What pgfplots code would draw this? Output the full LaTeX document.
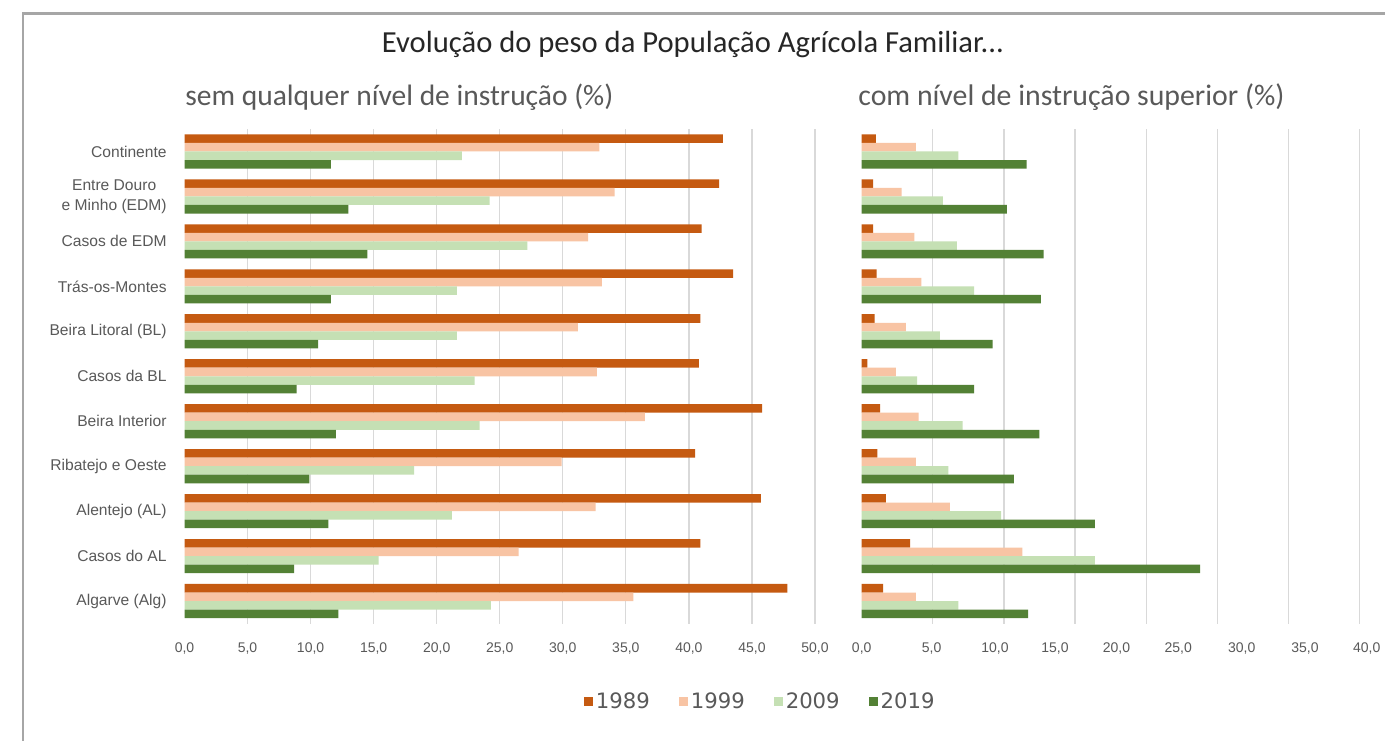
\documentclass[border=0pt]{standalone}
\usepackage{pgfplots}
\pgfplotsset{compat=1.18}
\usepackage{pgfplotstable}
\usepackage{fontspec}
\setmainfont{Carlito}
\newfontfamily\arialf{Liberation Sans}
\newfontfamily\legf{DejaVu Sans}
\definecolor{cA}{HTML}{C55A11}
\definecolor{cB}{HTML}{F8C4A4}
\definecolor{cC}{HTML}{C5E0B4}
\definecolor{cD}{HTML}{538135}
\definecolor{txt}{HTML}{595959}
\definecolor{grd}{HTML}{D9D9D9}

\pgfplotstableread{
idx a b c d
0 42.7 32.9 22.0 11.6
1 42.4 34.1 24.2 13.0
2 41.0 32.0 27.2 14.5
3 43.5 33.1 21.6 11.6
4 40.9 31.2 21.6 10.6
5 40.8 32.7 23.0 8.9
6 45.8 36.5 23.4 12.0
7 40.5 29.9 18.2 9.9
8 45.7 32.6 21.2 11.4
9 40.9 26.5 15.4 8.7
10 47.8 35.6 24.3 12.2
}\semtab

\pgfplotstableread{
idx a b c d
0 1.0 3.8 6.8 11.6
1 0.8 2.8 5.7 10.2
2 0.8 3.7 6.7 12.8
3 1.05 4.2 7.9 12.6
4 0.9 3.1 5.5 9.2
5 0.4 2.4 3.9 7.9
6 1.3 4.0 7.1 12.5
7 1.1 3.8 6.1 10.7
8 1.7 6.2 9.8 16.4
9 3.4 11.3 16.4 23.8
10 1.5 3.8 6.8 11.7
}\comtab

\pgfplotsset{
  barpanel/.style={
    scale only axis,
    y dir=reverse,
    ymin=-0.5, ymax=10.5,
    ytick={0,...,10},
    axis line style={draw=none},
    major tick length=0pt,
    tick style={draw=none},
    grid style={grd, line width=0.6pt},
    xticklabel style={font=\arialf\fontsize{7}{8}\selectfont, text=txt, inner sep=0pt, yshift=-9.25pt},
    /pgf/number format/assume math mode=true,
    clip=false,
  },
  bA/.style={xbar, fill=cA, draw=none, bar width=0.19, bar shift=-0.285},
  bB/.style={xbar, fill=cB, draw=none, bar width=0.19, bar shift=-0.095},
  bC/.style={xbar, fill=cC, draw=none, bar width=0.19, bar shift=0.095},
  bD/.style={xbar, fill=cD, draw=none, bar width=0.19, bar shift=0.285},
}

\begin{document}
\begin{tikzpicture}
\useasboundingbox (0pt,0pt) rectangle (692.5pt,-370pt);
\fill[white] (0pt,0pt) rectangle (692.5pt,-370pt);
\draw[color=black!35, line width=1.2pt] (11.5pt,-372pt) -- (11.5pt,-6.75pt) -- (700pt,-6.75pt);

\node[font=\fontsize{15.3}{18}\selectfont, text=black!85] at (346.5pt,-22.5pt) {Evolução do peso da População Agrícola Familiar...};
\node[font=\fontsize{14.75}{17}\selectfont, text=txt, anchor=west, inner sep=0pt] at (92.5pt,-48.5pt) {sem qualquer nível de instrução (\%)};
\node[font=\fontsize{14.9}{17}\selectfont, text=txt, anchor=west, inner sep=0pt] at (429pt,-48.5pt) {com nível de instrução superior (\%)};

\begin{axis}[barpanel,
  at={(92.25pt,-64.5pt)}, anchor=north west,
  width=315.25pt, height=247.25pt,
  xmin=0, xmax=50,
  xtick={0,5,...,50},
  xticklabel={\pgfmathprintnumber[fixed, fixed zerofill, precision=1, use comma]{\tick}},
  extra x ticks={5,10,...,50},
  extra x tick labels={},
  extra x tick style={xmajorgrids=true},
  yticklabels={Continente,{Entre Douro\\e Minho (EDM)},Casos de EDM,Trás-os-Montes,Beira Litoral (BL),Casos da BL,Beira Interior,Ribatejo e Oeste,Alentejo (AL),Casos do AL,Algarve (Alg)},
  yticklabel style={font=\arialf\fontsize{7.8}{10}\selectfont, text=txt, align=center, inner sep=0pt, xshift=-8.75pt},
  legend style={at={(0.914,-0.158)}, anchor=center, draw=none, fill=none,
    legend columns=4, font=\legf\fontsize{10.6}{12}\selectfont, text=txt,
    nodes={inner xsep=1.5pt},
    /tikz/every even column/.append style={column sep=13pt},
    /tikz/every odd column/.append style={column sep=0pt}},
  legend image code/.code={\fill[#1] (0pt,-2.25pt) rectangle (4.5pt,2.25pt);},
]
\addplot[bA] table[x=a, y=idx] {\semtab};
\addplot[bB] table[x=b, y=idx] {\semtab};
\addplot[bC] table[x=c, y=idx] {\semtab};
\addplot[bD] table[x=d, y=idx] {\semtab};
\legend{1989,1999,2009,2019}
\end{axis}

\begin{axis}[barpanel,
  at={(430.85pt,-64.5pt)}, anchor=north west,
  width=261.65pt, height=247.25pt,
  xmin=0, xmax=36.8,
  xtick={5,10,...,35},
  xticklabels={},
  xmajorgrids=true,
  extra x ticks={0,4.92,9.37,13.59,17.92,22.26,26.72,31.17,35.51},
  extra x tick labels={{0,0},{5,0},{10,0},{15,0},{20,0},{25,0},{30,0},{35,0},{40,0}},
  extra x tick style={xmajorgrids=false},
  yticklabels={},
]
\addplot[bA] table[x=a, y=idx] {\comtab};
\addplot[bB] table[x=b, y=idx] {\comtab};
\addplot[bC] table[x=c, y=idx] {\comtab};
\addplot[bD] table[x=d, y=idx] {\comtab};
\end{axis}
\end{tikzpicture}
\end{document}
